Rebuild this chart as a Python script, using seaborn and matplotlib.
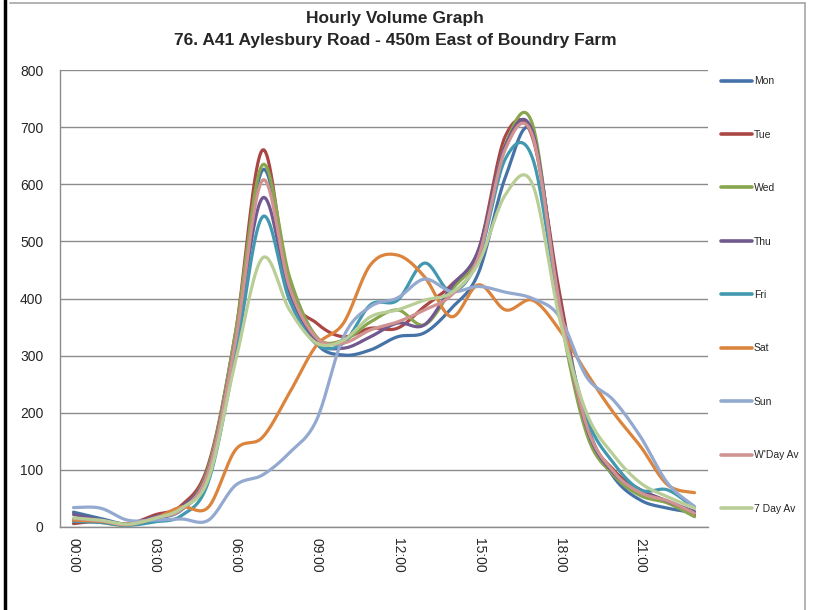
import numpy as np
import pandas as pd
import matplotlib
matplotlib.use('Agg')
import matplotlib.pyplot as plt
import seaborn as sns
from matplotlib.lines import Line2D

hours = list(range(24))
tick_hours = [0, 3, 6, 9, 12, 15, 18, 21]
tick_labels = ['00:00', '03:00', '06:00', '09:00', '12:00', '15:00', '18:00', '21:00']

mon = [26, 15, 5, 15, 30, 95, 320, 625, 427, 322, 301, 310, 333, 340, 383, 445, 613, 690, 390, 182, 88, 47, 33, 25]
tue = [6, 10, 5, 21, 38, 110, 340, 660, 415, 357, 333, 348, 348, 386, 424, 485, 685, 682, 410, 175, 100, 65, 45, 21]
wed = [13, 8, 3, 17, 33, 105, 340, 634, 438, 333, 327, 359, 380, 354, 415, 480, 670, 705, 380, 164, 91, 55, 42, 18]
thu = [22, 12, 5, 18, 35, 100, 325, 576, 411, 325, 313, 333, 357, 354, 421, 485, 668, 692, 395, 175, 95, 65, 45, 27]
fri = [10, 8, 3, 9, 20, 80, 300, 543, 397, 320, 322, 389, 397, 462, 412, 470, 645, 646, 385, 193, 112, 65, 65, 33]
sat = [12, 10, 5, 15, 35, 35, 135, 157, 235, 318, 357, 459, 476, 438, 368, 424, 380, 397, 345, 270, 200, 141, 74, 60]
sun = [34, 33, 12, 12, 14, 12, 73, 91, 130, 187, 333, 386, 401, 434, 412, 421, 411, 400, 368, 263, 222, 158, 77, 36]
wday_av = [15, 11, 4, 16, 31, 98, 325, 607, 420, 331, 322, 345, 359, 380, 406, 473, 662, 685, 390, 178, 97, 60, 46, 24]
week_av = [16, 12, 5, 15, 33, 85, 290, 471, 380, 322, 327, 368, 380, 397, 410, 462, 582, 600, 365, 200, 126, 77, 53, 33]

names = ['Mon', 'Tue', 'Wed', 'Thu', 'Fri', 'Sat', 'Sun', "W'Day Av", '7 Day Av']
values = [mon, tue, wed, thu, fri, sat, sun, wday_av, week_av]
colors = ['#4572A7', '#AA4643', '#89A54E', '#71588F', '#4198AF',
          '#DB843D', '#93A9CF', '#D19392', '#B9CD96']


def smooth(xs, ys, n=20):
    # Excel-style smoothed line: cubic bezier through each point
    p = np.column_stack([xs, ys]).astype(float)
    p = np.vstack([p[0], p, p[-1]])
    t = np.linspace(0, 1, n)[:, None]
    out = []
    for i in range(1, len(p) - 2):
        b0, b3 = p[i], p[i + 1]
        b1 = b0 + (p[i + 1] - p[i - 1]) / 6
        b2 = b3 - (p[i + 2] - p[i]) / 6
        seg = ((1 - t) ** 3) * b0 + 3 * ((1 - t) ** 2) * t * b1 + 3 * (1 - t) * t ** 2 * b2 + t ** 3 * b3
        out.append(seg if i == 1 else seg[1:])
    out = np.vstack(out)
    return out[:, 0], out[:, 1]


frames = []
for name, vals in zip(names, values):
    sx, sy = smooth(hours, vals)
    frames.append(pd.DataFrame({'series': name, 'x': sx, 'y': sy}))
df = pd.concat(frames, ignore_index=True)

sns.set_style('white')
plt.rcParams['font.family'] = ['Liberation Sans', 'DejaVu Sans']

fig = plt.figure(figsize=(8.13, 6.1), dpi=100)
ax = fig.add_axes([60 / 813, 83 / 610, 648 / 813, 457 / 610])

sns.lineplot(data=df, x='x', y='y', hue='series', hue_order=names,
             palette=dict(zip(names, colors)), sort=False, estimator=None,
             units='series', lw=2.3, ax=ax, legend=False)

ax.set_xlim(-0.5, 23.5)
ax.set_ylim(0, 800)
ax.set_yticks(range(0, 801, 100))
ax.yaxis.grid(True, color='#8C8C8C', lw=1)
ax.set_axisbelow(True)
ax.set_xticks(tick_hours)
ax.set_xticklabels(tick_labels, rotation=-90, fontsize=10)
ax.tick_params(axis='y', labelsize=10, length=0, pad=12)
ax.tick_params(axis='x', length=0, pad=8)
ax.set_xlabel('')
ax.set_ylabel('')
for s in ['top', 'right']:
    ax.spines[s].set_visible(False)
for s in ['left', 'bottom']:
    ax.spines[s].set_color('#8C8C8C')
    ax.spines[s].set_linewidth(1)

handles = [Line2D([0], [0], color=c, lw=2.6) for c in colors]
fig.legend(handles, names, loc='upper left', bbox_to_anchor=(721 / 813, 0.875),
           frameon=False, fontsize=7.5, labelspacing=4.17, handlelength=3.0,
           handletextpad=0.15, borderpad=0, borderaxespad=0)

fig.text(395 / 813, 1 - 18 / 610, 'Hourly Volume Graph', ha='center', va='center',
         fontsize=12.5, fontweight='bold')
fig.text(395 / 813, 1 - 40 / 610, '76. A41 Aylesbury Road - 450m East of Boundry Farm',
         ha='center', va='center', fontsize=12.5, fontweight='bold')

# chart border and sheet edge
fig.add_artist(Line2D([10 / 813, 805 / 813], [1 - 3 / 610, 1 - 3 / 610], color='#A6A6A6', lw=1.2))
fig.add_artist(Line2D([805 / 813, 805 / 813], [0, 1 - 3 / 610], color='#A6A6A6', lw=1.2))
fig.add_artist(Line2D([5 / 813, 5 / 813], [0, 1], color='black', lw=2.5))

fig.savefig('out.png', dpi=100)
